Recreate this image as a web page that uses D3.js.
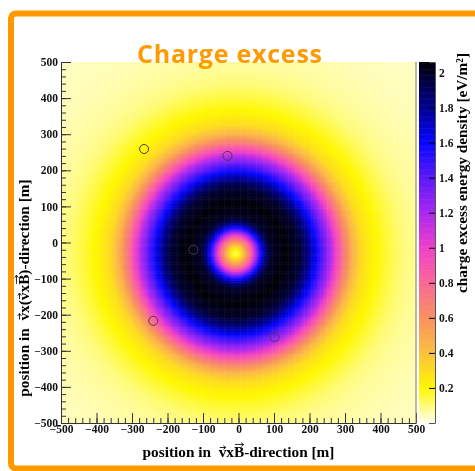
<!DOCTYPE html>
<html>
<head>
<meta charset="utf-8">
<script src="https://cdn.jsdelivr.net/npm/d3@7"></script>
<style>
  body { margin: 0; background: #fff; }
  #wrap { position: relative; width: 475px; height: 471px; overflow: hidden; }
  #wrap canvas, #wrap svg { position: absolute; left: 0; top: 0; }
  text { white-space: pre; }
</style>
</head>
<body>
<div id="wrap"></div>
<script>
// radial profile of the charge excess footprint (radius in m -> eV/m^2)
const profileR = [0, 10, 25, 40, 55, 70, 85, 100, 140, 180, 200, 225, 250, 270, 290, 310, 330, 355, 390, 430, 470, 520, 600, 750]
const profileV = [0.1, 0.2, 0.45, 0.75, 1.15, 1.55, 1.85, 2.0, 2.06, 1.98, 1.85, 1.62, 1.35, 1.15, 0.9, 0.65, 0.45, 0.3, 0.21, 0.15, 0.1, 0.07, 0.05, 0.035]
const coreX = -8
const coreY = -29

// antenna positions [m]
const antX = [-266, -31, -240, 102, -127]
const antY = [259, 240, -217, -262, -20]

// palette
const palStops = [0, 0.2, 0.4, 0.6, 0.8, 1.0, 1.2, 1.4, 1.6, 1.8, 2.06]
const palColors = ['#fffff0', '#fff700', '#fcc040', '#f89060', '#fa6898', '#f040c8', '#a828f0', '#5a18f8', '#0808ff', '#000090', '#000008']

const axisTicks = [-500, -400, -300, -200, -100, 0, 100, 200, 300, 400, 500]
const zTicks = [0.2, 0.4, 0.6, 0.8, 1, 1.2, 1.4, 1.6, 1.8, 2]

const W = 475, H = 471
const pLeft = 61, pRight = 416, pTop = 62, pBottom = 423
const zMax = 2.06

const xScale = d3.scaleLinear().domain([-500, 500]).range([pLeft, pRight])
const yScale = d3.scaleLinear().domain([-500, 500]).range([pBottom, pTop])
const profile = d3.scaleLinear().domain(profileR).range(profileV).clamp(true)
const color = d3.scaleLinear().domain(palStops).range(palColors).clamp(true)
const zScale = d3.scaleLinear().domain([0, zMax]).range([pBottom, pTop])

const wrap = d3.select('#wrap')

// heat map on a canvas
const canvas = wrap.append('canvas').attr('width', W).attr('height', H)
const ctx = canvas.node().getContext('2d')
const step = 5
for (let x = -500; x < 500; x += step) {
     for (let y = -500; y < 500; y += step) {
          const r = Math.hypot(x + step / 2 - coreX, y + step / 2 - coreY)
          ctx.fillStyle = color(profile(r))
          const x0 = xScale(x), x1 = xScale(x + step)
          const y0 = yScale(y + step), y1 = yScale(y)
          ctx.fillRect(x0, y0, x1 - x0 + 0.5, y1 - y0 + 0.5)
     }
}

const svg = wrap.append('svg').attr('width', W).attr('height', H)

// colour bar
const zLevels = d3.range(0, zMax, zMax / 300)
svg.append('g').selectAll('rect')
     .data(zLevels)
     .enter()
     .append('rect')
     .attr('x', 419)
     .attr('width', 16)
     .attr('y', d => zScale(d + zMax / 300))
     .attr('height', d => zScale(d) - zScale(d + zMax / 300) + 0.6)
     .attr('fill', d => color(d))

const zAxis = d3.axisRight(zScale).tickValues(zTicks).tickSize(-6).tickPadding(4).tickFormat(d3.format('~g'))
svg.append('g')
     .attr('transform', 'translate(435,0)')
     .call(zAxis)
     .call(g => g.select('.domain').attr('stroke', '#555'))
     .call(g => g.selectAll('text').attr('font-family', 'Liberation Serif').attr('font-weight', 'bold').attr('font-size', 11.5).attr('fill', '#111'))

svg.append('text')
     .attr('transform', 'translate(467,53) rotate(-90)')
     .attr('text-anchor', 'end')
     .attr('font-family', 'Liberation Serif')
     .attr('font-weight', 'bold')
     .attr('font-size', 15.3)
     .text('charge excess energy density [eV/m²]')

// axes with inward ticks
const fmt = d3.format('d')
function styleAxis(g) {
     g.select('.domain').attr('stroke', '#333')
     g.selectAll('.tick line').attr('stroke', '#333')
     g.selectAll('text').attr('font-family', 'Liberation Serif').attr('font-weight', 'bold').attr('font-size', 11.5).attr('fill', '#111')
}
const minor = d3.range(-500, 501, 20)

svg.append('g')
     .attr('transform', `translate(${pLeft},0)`)
     .call(d3.axisLeft(yScale).tickValues(minor).tickSize(-5).tickFormat(''))
     .call(g => g.select('.domain').remove())
     .call(g => g.selectAll('line').attr('stroke', '#333'))
svg.append('g')
     .attr('transform', `translate(${pLeft},0)`)
     .call(d3.axisLeft(yScale).tickValues(axisTicks).tickSizeInner(-10).tickSizeOuter(0).tickPadding(3).tickFormat(fmt))
     .call(styleAxis)

svg.append('g')
     .attr('transform', `translate(0,${pBottom})`)
     .call(d3.axisBottom(xScale).tickValues(minor).tickSize(-5).tickFormat(''))
     .call(g => g.select('.domain').remove())
     .call(g => g.selectAll('line').attr('stroke', '#333'))
svg.append('g')
     .attr('transform', `translate(0,${pBottom})`)
     .call(d3.axisBottom(xScale).tickValues(axisTicks).tickSizeInner(-10).tickSizeOuter(0).tickPadding(2).tickFormat(fmt))
     .call(styleAxis)

svg.append('line')
     .attr('x1', pRight).attr('x2', pRight).attr('y1', pTop).attr('y2', pBottom)
     .attr('stroke', '#777')

// antennas
svg.selectAll('circle.ant')
     .data(antX.map((x, i) => [x, antY[i]]))
     .enter()
     .append('circle')
     .attr('class', 'ant')
     .attr('cx', d => xScale(d[0]))
     .attr('cy', d => yScale(d[1]))
     .attr('r', 4.5)
     .attr('fill', 'none')
     .attr('stroke', '#4a3a48')
     .attr('stroke-width', 1)

// axis titles, vector arrows drawn over v and B
function vecTitle(transform, label, size) {
     const g = svg.append('g').attr('transform', transform)
     const t = g.append('text')
          .attr('text-anchor', 'middle')
          .attr('font-family', 'Liberation Serif')
          .attr('font-weight', 'bold')
          .attr('font-size', size)
          .text(label)
     const node = t.node()
     label.split('').forEach((ch, i) => {
          if (ch !== 'v' && ch !== 'B') return
          const x0 = node.getStartPositionOfChar(i).x
          const x1 = node.getEndPositionOfChar(i).x
          const y = ch === 'v' ? -size * 0.62 : -size * 0.82
          const a = x0 + 1, b = x1 - 0.5
          g.append('path')
               .attr('d', `M${a},${y}H${b}M${b - 2.5},${y - 1.8}L${b},${y}L${b - 2.5},${y + 1.8}`)
               .attr('fill', 'none')
               .attr('stroke', '#111')
               .attr('stroke-width', 0.9)
     })
}
vecTitle(`translate(${(pLeft + pRight) / 2},457)`, 'position in  vxB-direction [m]', 15.3)
vecTitle('translate(29,288) rotate(-90)', 'position in  vx(vxB)-direction [m]', 15.3)

// title and frame
svg.append('text')
     .attr('x', 137)
     .attr('y', 63)
     .attr('font-family', 'Open Sans')
     .attr('font-weight', 'bold')
     .attr('font-size', 25)
     .attr('textLength', 185)
     .attr('fill', '#ff9a00')
     .text('Charge excess')

svg.append('rect')
     .attr('x', 11).attr('y', 13.5)
     .attr('width', 620).attr('height', 455)
     .attr('rx', 5)
     .attr('fill', 'none')
     .attr('stroke', '#ff9900')
     .attr('stroke-width', 6)
</script>
</body>
</html>
